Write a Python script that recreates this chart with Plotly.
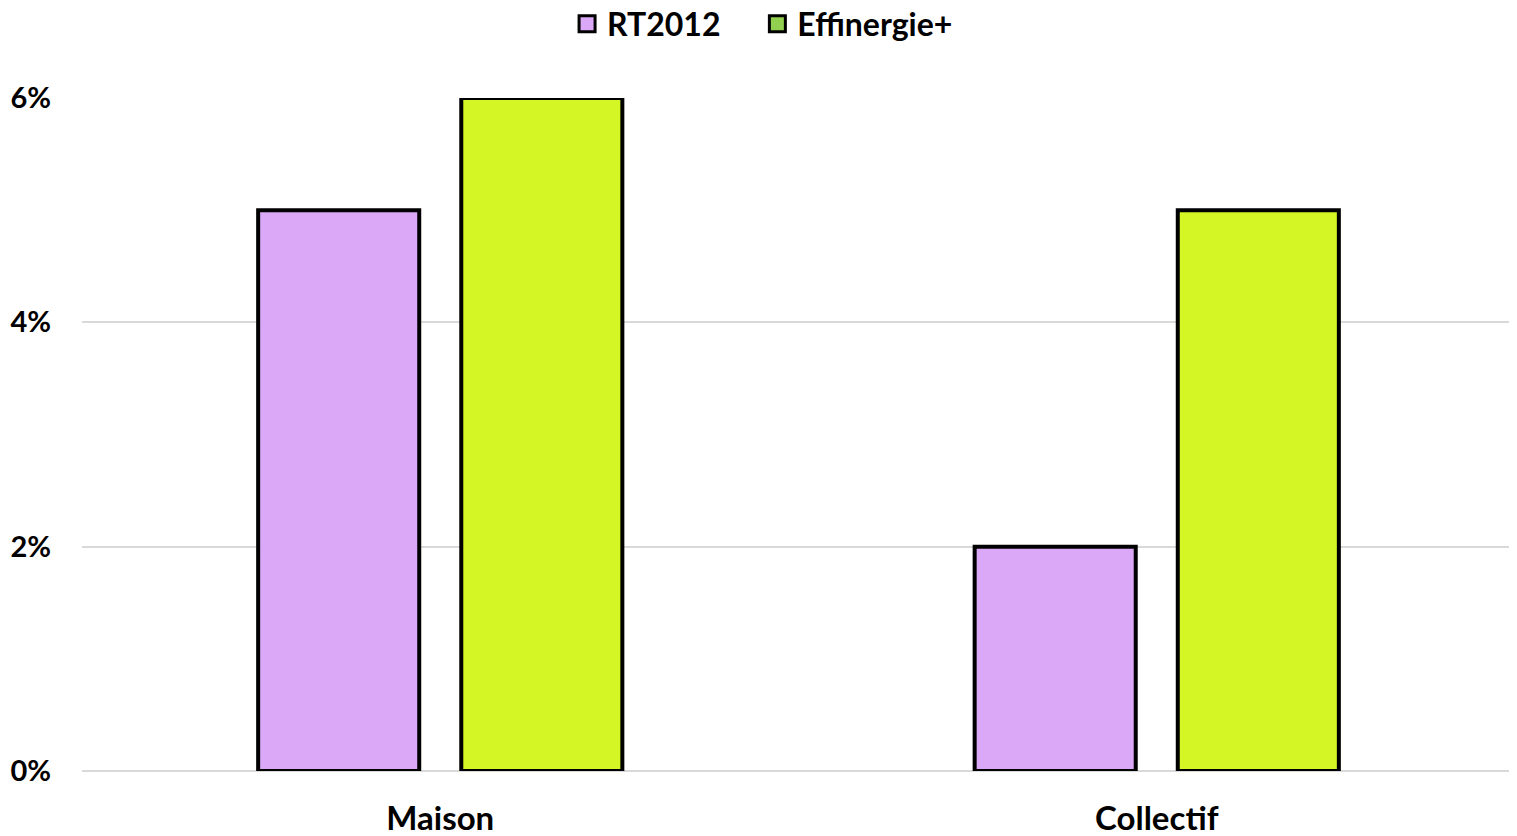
import plotly.graph_objects as go

categories = ["Maison", "Collectif"]
series_names = ["RT2012", "Effinergie+"]
rt2012 = [5, 2]
effinergie = [6, 5]
tick_vals = [0, 2, 4, 6]
tick_text = ["0%", "2%", "4%", "6%"]

bar_colors = ["#DBA8F7", "#D4F624"]
legend_colors = ["#DBA8F7", "#92D050"]
values = [rt2012, effinergie]
legend_ids = ["legend", "legend2"]
legend_x = [0.3385, 0.4713]

fig = go.Figure()
for name, vals, col in zip(series_names, values, bar_colors):
    fig.add_trace(go.Bar(
        x=categories, y=vals, name=name, showlegend=False,
        marker=dict(color=col, line=dict(color="black", width=4)),
    ))
for name, col, lid in zip(series_names, legend_colors, legend_ids):
    fig.add_trace(go.Scatter(
        x=[None], y=[None], name=name, showlegend=True, mode="markers",
        legend=lid,
        marker=dict(color=col, symbol="square", size=22,
                    line=dict(color="black", width=3)),
    ))

font_family = "Lato, 'Open Sans', sans-serif"
legend_style = dict(orientation="h", xref="paper", xanchor="left",
                    yref="paper", y=1.11, yanchor="middle",
                    bgcolor="rgba(0,0,0,0)",
                    font=dict(size=32, weight="bold"), itemsizing="trace",
                    itemwidth=30)
fig.update_layout(
    width=1509, height=828,
    margin=dict(l=74, r=2, t=90, b=65, autoexpand=False),
    paper_bgcolor="white", plot_bgcolor="white",
    barmode="group", bargap=0.433, bargroupgap=0.207,
    font=dict(family=font_family, size=30, color="black", weight="bold"),
    legend=dict(x=legend_x[0], **legend_style),
    legend2=dict(x=legend_x[1], **legend_style),
    xaxis=dict(showgrid=False, showline=False, ticks="", automargin=False,
               ticklabelstandoff=25,
               tickfont=dict(size=33, weight="bold")),
    yaxis=dict(range=[0, 6], tickvals=tick_vals, ticktext=tick_text,
               showgrid=True, gridcolor="#D9D9D9", gridwidth=2,
               zeroline=True, zerolinecolor="#D9D9D9", zerolinewidth=2,
               showline=False, ticks="", ticklabelstandoff=30, automargin=False,
               tickfont=dict(size=29, weight="bold")),
)

fig.write_html("out.html")
